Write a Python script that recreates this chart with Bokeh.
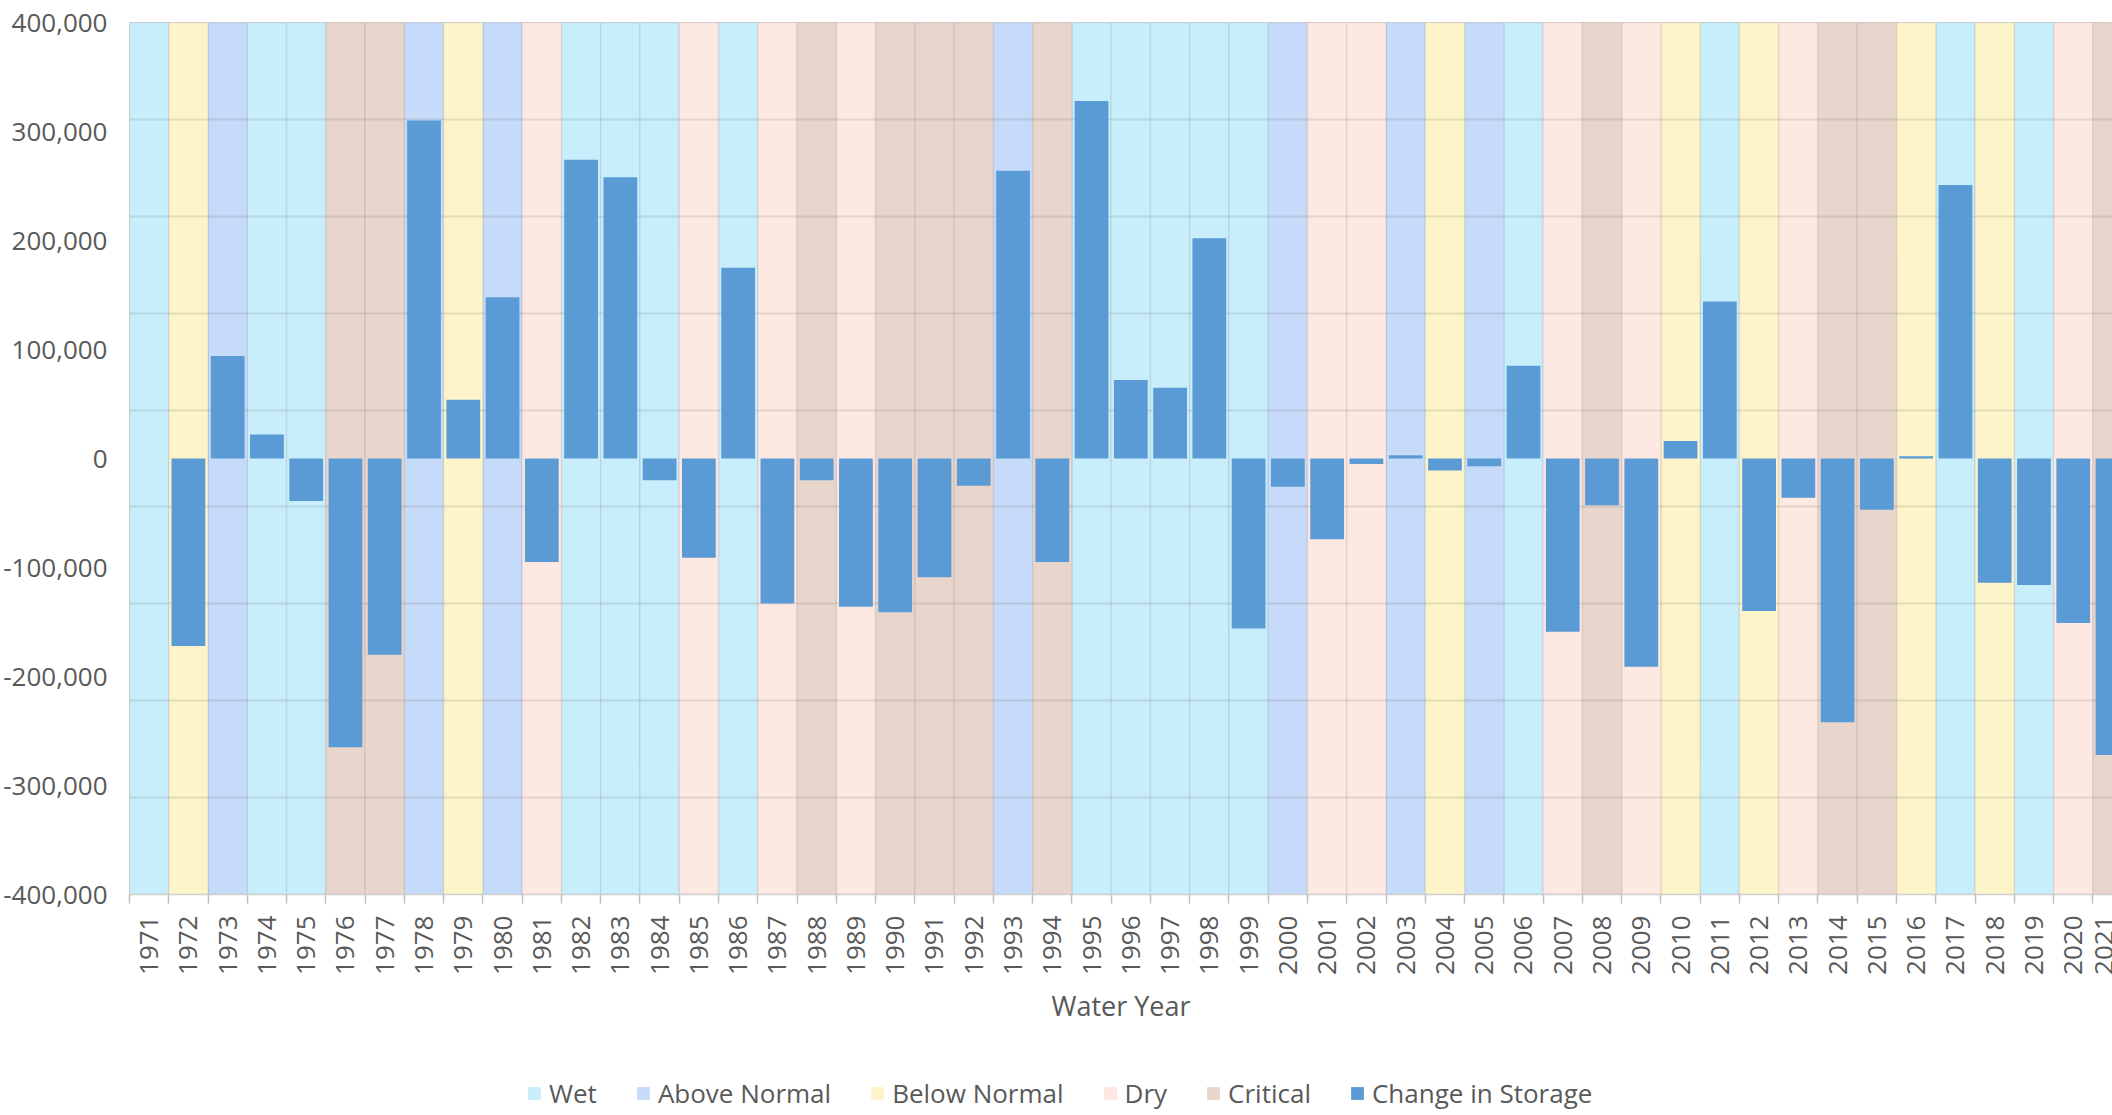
import math
import numpy as np
from bokeh.plotting import figure
from bokeh.layouts import column
from bokeh.models import (ColumnDataSource, FixedTicker, NumeralTickFormatter,
                          Legend, LegendItem, Range1d)
from bokeh.embed import file_html
from bokeh.resources import INLINE

# ---------------- data ----------------
years = list(range(1971, 2022))

year_types = [
    "Wet", "Below Normal", "Above Normal", "Wet", "Wet",            # 1971-1975
    "Critical", "Critical", "Above Normal", "Below Normal", "Above Normal",  # 1976-1980
    "Dry", "Wet", "Wet", "Wet", "Dry",                              # 1981-1985
    "Wet", "Dry", "Critical", "Dry", "Critical",                    # 1986-1990
    "Critical", "Critical", "Above Normal", "Critical", "Wet",      # 1991-1995
    "Wet", "Wet", "Wet", "Wet", "Above Normal",                     # 1996-2000
    "Dry", "Dry", "Above Normal", "Below Normal", "Above Normal",   # 2001-2005
    "Wet", "Dry", "Critical", "Dry", "Below Normal",                # 2006-2010
    "Wet", "Below Normal", "Dry", "Critical", "Critical",           # 2011-2015
    "Below Normal", "Wet", "Below Normal", "Wet", "Dry",            # 2016-2020
    "Critical",                                                     # 2021
]

storage_change = [
    0, -172000, 94000, 22000, -39000,
    -265000, -180000, 310000, 54000, 148000,
    -95000, 274000, 258000, -20000, -91000,
    175000, -133000, -20000, -136000, -141000,
    -109000, -25000, 264000, -95000, 328000,
    72000, 65000, 202000, -156000, -26000,
    -74000, -5000, 3000, -11000, -7000,
    85000, -159000, -43000, -191000, 16000,
    144000, -140000, -36000, -242000, -47000,
    2000, 251000, -114000, -116000, -151000,
    -272000,
]

type_names = ["Wet", "Above Normal", "Below Normal", "Dry", "Critical"]
type_colors = ["#c9eefb", "#c6daf9", "#fdf4c9", "#fee8e2", "#e8d6cc"]
bar_label = "Change in Storage"
bar_color = "#5b9bd5"

y_tick_values = [-400000, -300000, -200000, -100000, 0, 100000, 200000, 300000, 400000]
Y_MIN, Y_MAX = -400000, 400000

# ---------------- main figure ----------------
FONT = "Open Sans"
TXT = "#595959"
W = 2112
MAIN_H = 1070
LEG_H = 1115 - MAIN_H

p = figure(width=W, height=MAIN_H,
           x_range=Range1d(1970.5, 2021.0), y_range=Range1d(Y_MIN, Y_MAX),
           output_backend="svg", toolbar_location=None,
           min_border_left=128, min_border_right=0, min_border_top=22,
           min_border_bottom=MAIN_H - 894, background_fill_color="white",
           outline_line_color="#d0d0d0", outline_line_width=1)

# background water-year-type columns
for name, color in zip(type_names, type_colors):
    xs = [y for y, t in zip(years, year_types) if t == name]
    src = ColumnDataSource(dict(x=xs, top=[Y_MAX] * len(xs), bottom=[Y_MIN] * len(xs)))
    p.vbar(x="x", top="top", bottom="bottom", width=1.0, source=src,
           fill_color=color, line_color="#000000", line_alpha=0.07,
           line_width=1.5, level="image")

# change in storage bars
bar_src = ColumnDataSource(dict(x=years, top=storage_change, bottom=[0] * len(years)))
p.vbar(x="x", top="top", bottom="bottom", width=0.86, source=bar_src,
       fill_color=bar_color, line_color=None)

# grid
p.xgrid.grid_line_color = None
p.ygrid.ticker = FixedTicker(ticks=list(np.linspace(Y_MIN, Y_MAX, 10)))
p.ygrid.grid_line_color = "#6f6f6f"
p.ygrid.grid_line_alpha = 0.18
p.ygrid.grid_line_width = 2

# y axis
ya = p.yaxis[0]
ya.ticker = FixedTicker(ticks=y_tick_values)
ya.formatter = NumeralTickFormatter(format="0,0")
ya.axis_line_color = None
ya.major_tick_line_color = None
ya.minor_tick_line_color = None
ya.major_tick_out = 0
ya.major_tick_in = 0
ya.major_label_standoff = 22
ya.major_label_text_font = FONT
ya.major_label_text_font_size = "26px"
ya.major_label_text_color = TXT

# x axis
xa = p.xaxis[0]
boundaries = [y - 0.5 for y in years] + [years[-1] + 0.5]
xa.ticker = FixedTicker(ticks=years, minor_ticks=boundaries)
xa.axis_line_color = "#d0d0d0"
xa.axis_line_width = 1.5
xa.major_tick_line_color = None
xa.major_tick_out = 0
xa.major_tick_in = 0
xa.minor_tick_line_color = "#bfbfbf"
xa.minor_tick_line_width = 1.5
xa.minor_tick_out = 9
xa.minor_tick_in = 0
xa.major_label_orientation = math.pi / 2
xa.major_label_standoff = 12
xa.major_label_text_font = FONT
xa.major_label_text_font_size = "26px"
xa.major_label_text_color = TXT
xa.axis_label = "Water Year"
xa.axis_label_standoff = 9
xa.axis_label_text_font = FONT
xa.axis_label_text_font_size = "27px"
xa.axis_label_text_font_style = "normal"
xa.axis_label_text_color = TXT

# ---------------- legend strip ----------------
lg = figure(width=W, height=LEG_H, x_range=Range1d(0, 1), y_range=Range1d(0, 1),
            output_backend="svg", toolbar_location=None,
            min_border_left=0, min_border_right=0, min_border_top=0,
            min_border_bottom=0, outline_line_color=None)
lg.xaxis.visible = False
lg.yaxis.visible = False
lg.xgrid.visible = False
lg.ygrid.visible = False

# legend-only renderers: one zero-height bar each, outside this strip's ranges
stub = dict(x=[years[0]], top=[0], bottom=[0])
leg_renderers = []
for color in type_colors + [bar_color]:
    leg_renderers.append(lg.vbar(x="x", top="top", bottom="bottom", width=1,
                                 source=ColumnDataSource(stub),
                                 fill_color=color, line_color=None))

items = [LegendItem(label=n, renderers=[r])
         for n, r in zip(type_names + [bar_label], leg_renderers)]
legend = Legend(items=items, location=(397, 4), orientation="horizontal",
                label_text_font=FONT, label_text_font_size="26px",
                label_text_color=TXT, glyph_width=16, glyph_height=16,
                label_standoff=7, spacing=38, padding=0, margin=0,
                border_line_color=None, background_fill_alpha=0)
lg.add_layout(legend)

layout = column(p, lg, spacing=0)
open("out.html", "w").write(file_html(layout, INLINE))
